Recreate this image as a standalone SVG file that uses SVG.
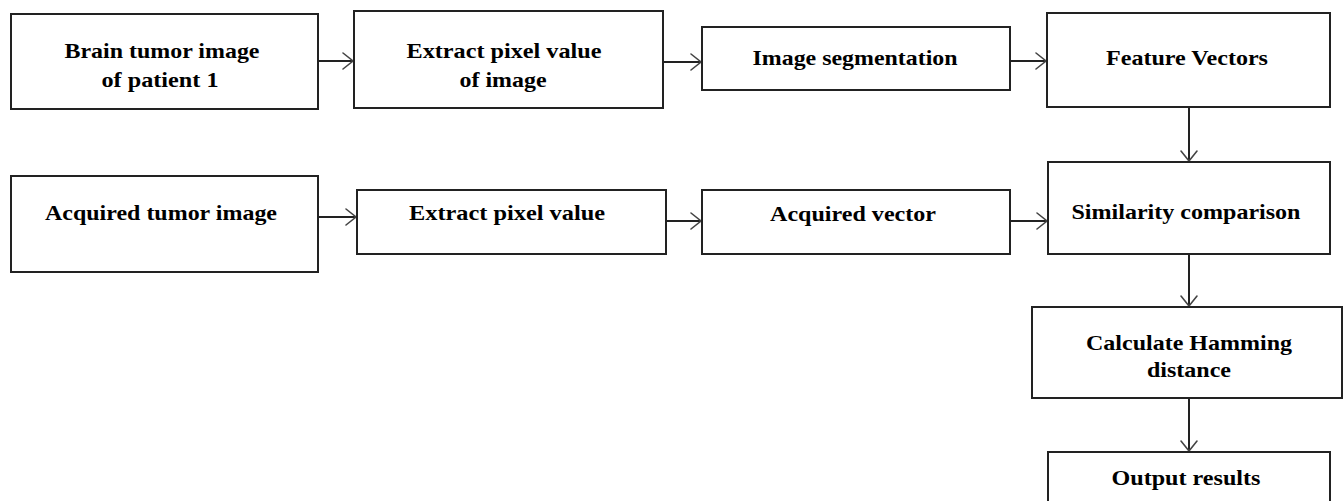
<svg xmlns="http://www.w3.org/2000/svg" width="1343" height="501" viewBox="0 0 1343 501">
<style>
.box{fill:#fff;stroke:#222;stroke-width:2}
.t{font-family:'Liberation Serif',Tinos,'Times New Roman','Nimbus Roman',Times,serif;font-weight:700;font-size:22px;fill:#000;text-anchor:middle}
.c{stroke:#222;stroke-width:2;fill:none}
.h{stroke:#444;stroke-width:1.6;fill:none;stroke-linecap:round}
</style>
<rect width="1343" height="501" fill="#fff"/>
<g id="connectors">
<line class="c" x1="318" y1="61" x2="353" y2="61"/><polyline class="h" points="343,53 353,61 343,69"/>
<line class="c" x1="663" y1="62" x2="701" y2="62"/><polyline class="h" points="691,54 701,62 691,70"/>
<line class="c" x1="1010" y1="61" x2="1046" y2="61"/><polyline class="h" points="1036,53 1046,61 1036,69"/>
<line class="c" x1="1189" y1="107" x2="1189" y2="161"/><polyline class="h" points="1181,151 1189,161 1197,151"/>
<line class="c" x1="318" y1="217" x2="356" y2="217"/><polyline class="h" points="346,209 356,217 346,225"/>
<line class="c" x1="666" y1="221" x2="701" y2="221"/><polyline class="h" points="691,213 701,221 691,229"/>
<line class="c" x1="1010" y1="221" x2="1047" y2="221"/><polyline class="h" points="1037,213 1047,221 1037,229"/>
<line class="c" x1="1189" y1="254" x2="1189" y2="306"/><polyline class="h" points="1181,296 1189,306 1197,296"/>
<line class="c" x1="1189" y1="398" x2="1189" y2="451"/><polyline class="h" points="1181,441 1189,451 1197,441"/>
</g>
<g id="n1"><rect class="box" x="11" y="14" width="307" height="95"/><text class="t" x="162" y="58" textLength="195" lengthAdjust="spacingAndGlyphs">Brain tumor image</text><text class="t" x="160" y="87" textLength="117" lengthAdjust="spacingAndGlyphs">of patient 1</text></g>
<g id="n2"><rect class="box" x="354" y="11" width="309" height="97"/><text class="t" x="504" y="58" textLength="195" lengthAdjust="spacingAndGlyphs">Extract pixel value</text><text class="t" x="503" y="87" textLength="87" lengthAdjust="spacingAndGlyphs">of image</text></g>
<g id="n3"><rect class="box" x="702" y="27" width="308" height="63"/><text class="t" x="855" y="65" textLength="205" lengthAdjust="spacingAndGlyphs">Image segmentation</text></g>
<g id="n4"><rect class="box" x="1047" y="13" width="283" height="94"/><text class="t" x="1187" y="65" textLength="162" lengthAdjust="spacingAndGlyphs">Feature Vectors</text></g>
<g id="n5"><rect class="box" x="11" y="176" width="307" height="96"/><text class="t" x="161" y="220" textLength="232" lengthAdjust="spacingAndGlyphs">Acquired tumor image</text></g>
<g id="n6"><rect class="box" x="357" y="190" width="309" height="64"/><text class="t" x="507" y="220" textLength="196" lengthAdjust="spacingAndGlyphs">Extract pixel value</text></g>
<g id="n7"><rect class="box" x="702" y="190" width="308" height="64"/><text class="t" x="853" y="221" textLength="166" lengthAdjust="spacingAndGlyphs">Acquired vector</text></g>
<g id="n8"><rect class="box" x="1048" y="162" width="282" height="92"/><text class="t" x="1186" y="219" textLength="229" lengthAdjust="spacingAndGlyphs">Similarity comparison</text></g>
<g id="n9"><rect class="box" x="1032" y="307" width="310" height="91"/><text class="t" x="1189" y="350" textLength="206" lengthAdjust="spacingAndGlyphs">Calculate Hamming</text><text class="t" x="1189" y="377" textLength="84" lengthAdjust="spacingAndGlyphs">distance</text></g>
<g id="n10"><rect class="box" x="1048" y="452" width="282" height="60"/><text class="t" x="1186" y="485" textLength="149" lengthAdjust="spacingAndGlyphs">Output results</text></g>
</svg>
